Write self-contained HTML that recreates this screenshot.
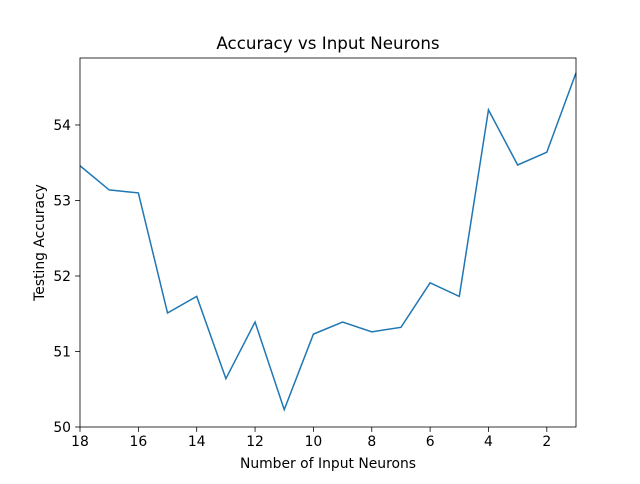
<!DOCTYPE html>
<html><head><meta charset="utf-8"><style>
body{margin:0;background:#fff;font-family:"DejaVu Sans","Liberation Sans",sans-serif;}
svg text{font-family:"DejaVu Sans","Liberation Sans",sans-serif;fill:#000;}
</style></head><body>
<svg id="chart" width="640" height="480">
<rect width="640" height="480" fill="#fff"/>
<g id="g"></g>
</svg>
<script>
const neurons=[18,17,16,15,14,13,12,11,10,9,8,7,6,5,4,3,2,1];
const accuracy=[53.46,53.14,53.10,51.51,51.73,50.64,51.39,50.23,51.23,51.39,51.26,51.32,51.91,51.73,54.20,53.47,53.64,54.69];
const xTicks=[18,16,14,12,10,8,6,4,2];
const yTicks=[50,51,52,53,54];
const L=80,R=576,T=58,B=427;
const xMin=18,xMax=1,yMin=50,yMax=54.887;
const sx=v=>L+(v-xMin)/(xMax-xMin)*(R-L);
const sy=v=>B-(v-yMin)/(yMax-yMin)*(B-T);
const NS="http://www.w3.org/2000/svg";
const g=document.getElementById('g');
function mk(t,a,txt){const e=document.createElementNS(NS,t);for(const k in a)e.setAttribute(k,a[k]);if(txt!==undefined)e.textContent=txt;g.appendChild(e);return e;}
let d=neurons.map((n,i)=>(i?'L':'M')+sx(n)+','+sy(accuracy[i])).join('');
let ln=mk('path',{d:d,fill:'none',stroke:'#1f77b4','stroke-width':1.5});


let fr=mk('rect',{x:L,y:T,width:R-L,height:B-T,fill:'none',stroke:'#000','stroke-width':0.8});


xTicks.forEach(v=>{const x=sx(v);
 mk('line',{x1:x,x2:x,y1:B,y2:B+4.9,stroke:'#000','stroke-width':0.8});
 let t=mk('text',{x:x,y:B+19,'text-anchor':'middle','font-size':13.9},v);
 
 });
yTicks.forEach(v=>{const y=sy(v);
 mk('line',{x1:L-4.9,x2:L,y1:y,y2:y,stroke:'#000','stroke-width':0.8});
 let t=mk('text',{x:L-9,y:y+5,'text-anchor':'end','font-size':13.9},v);
 
 });
let ti=mk('text',{x:(L+R)/2,y:49,'text-anchor':'middle','font-size':16.7},'Accuracy vs Input Neurons');


let xl=mk('text',{x:(L+R)/2,y:468,'text-anchor':'middle','font-size':13.9},'Number of Input Neurons');


let yl=mk('text',{x:44,y:(T+B)/2,'text-anchor':'middle','font-size':13.9,transform:'rotate(-90 44 '+(T+B)/2+')'},'Testing Accuracy');


</script>
</body></html>
